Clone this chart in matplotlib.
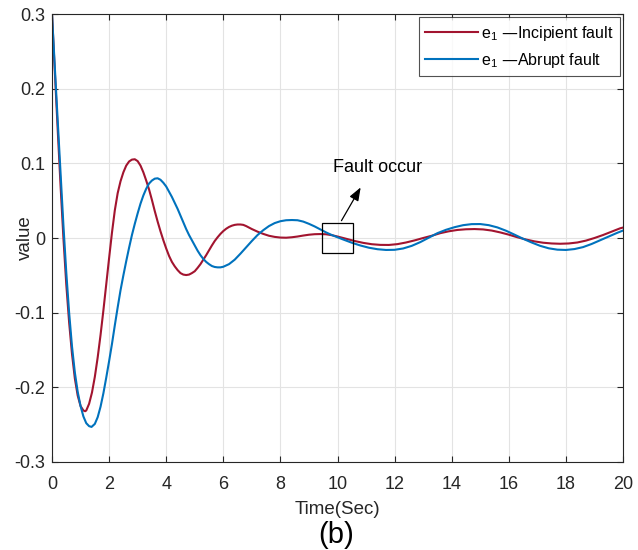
import matplotlib
matplotlib.use("Agg")
import matplotlib.pyplot as plt
from matplotlib.patches import Rectangle
from matplotlib.ticker import FuncFormatter

plt.rcParams['font.family'] = ['Liberation Sans', 'DejaVu Sans']

# --- data ---
t_inc = [0.0, 0.1, 0.2, 0.3, 0.4, 0.5, 0.6, 0.7, 0.8, 0.9, 1.0, 1.1, 1.16, 1.2, 1.3,
         1.4, 1.5, 1.6, 1.7, 1.8, 1.9, 2.0, 2.1, 2.2, 2.3, 2.4, 2.5, 2.6, 2.7, 2.8,
         2.9, 3.0, 3.1, 3.2, 3.3, 3.4, 3.5, 3.6, 3.7, 3.8, 3.9, 4.0, 4.1, 4.2, 4.3,
         4.4, 4.5, 4.6, 4.7, 4.8, 4.9, 5.0, 5.1, 5.2, 5.3, 5.4, 5.5, 5.6, 5.7, 5.8,
         5.9, 6.0, 6.1, 6.2, 6.3, 6.4, 6.5, 6.6, 6.7, 6.8, 6.9, 7.0, 7.2, 7.4, 7.6,
         7.8, 8.0, 8.2, 8.4, 8.6, 8.8, 9.0, 9.2, 9.4, 9.6, 9.8, 10.0, 10.3, 10.6,
         10.9, 11.2, 11.5, 11.8, 12.1, 12.4, 12.7, 13.0, 13.3, 13.6, 13.9, 14.2,
         14.5, 14.8, 15.1, 15.4, 15.7, 16.0, 16.3, 16.6, 16.9, 17.2, 17.5, 17.8,
         18.1, 18.4, 18.7, 19.0, 19.3, 19.6, 19.9, 20.0]
e_inc = [0.300, 0.222, 0.145, 0.070, 0.000, -0.062, -0.113, -0.155, -0.188, -0.211,
         -0.225, -0.231, -0.232, -0.231, -0.222, -0.207, -0.186, -0.160, -0.130,
         -0.097, -0.062, -0.027, 0.007, 0.037, 0.060, 0.076, 0.088, 0.097, 0.1025,
         0.105, 0.1055, 0.103, 0.097, 0.088, 0.077, 0.065, 0.051, 0.036, 0.022,
         0.009, -0.003, -0.014, -0.024, -0.032, -0.038, -0.043, -0.047, -0.049,
         -0.0496, -0.049, -0.047, -0.0445, -0.040, -0.035, -0.029, -0.023, -0.0165,
         -0.010, -0.004, 0.001, 0.0055, 0.0093, 0.0124, 0.0148, 0.0165, 0.0176,
         0.0181, 0.0181, 0.0176, 0.016, 0.014, 0.012, 0.0085, 0.0055, 0.003, 0.0015,
         0.0006, 0.0004, 0.001, 0.002, 0.0033, 0.0044, 0.0051, 0.0053, 0.0050,
         0.0038, 0.002, -0.001, -0.004, -0.0065, -0.0083, -0.0092, -0.0093, -0.0082,
         -0.006, -0.0032, 0.000, 0.003, 0.0065, 0.009, 0.0108, 0.0117, 0.012, 0.0115,
         0.010, 0.0075, 0.0045, 0.001, -0.002, -0.0045, -0.0063, -0.0073, -0.0077,
         -0.0073, -0.006, -0.0035, 0.000, 0.004, 0.0085, 0.013, 0.014]

t_abr = [0.0, 0.1, 0.2, 0.3, 0.4, 0.5, 0.6, 0.7, 0.8, 0.9, 1.0, 1.1, 1.2, 1.3, 1.385,
         1.5, 1.6, 1.7, 1.8, 1.9, 2.0, 2.1, 2.2, 2.3, 2.4, 2.5, 2.6, 2.7, 2.8, 2.9,
         3.0, 3.1, 3.2, 3.3, 3.4, 3.5, 3.6, 3.7, 3.8, 3.9, 4.0, 4.1, 4.2, 4.3, 4.4,
         4.5, 4.6, 4.7, 4.8, 4.9, 5.0, 5.1, 5.2, 5.3, 5.4, 5.5, 5.6, 5.7, 5.8, 5.9,
         6.0, 6.2, 6.4, 6.6, 6.8, 7.0, 7.2, 7.4, 7.6, 7.8, 8.0, 8.2, 8.4, 8.6, 8.8,
         9.0, 9.2, 9.4, 9.6, 9.8, 10.0, 10.2, 10.5, 10.8, 11.1, 11.4, 11.7, 12.0,
         12.3, 12.6, 12.9, 13.2, 13.5, 13.8, 14.1, 14.4, 14.7, 15.0, 15.3, 15.6,
         15.9, 16.2, 16.5, 16.8, 17.1, 17.4, 17.7, 18.0, 18.3, 18.6, 18.9, 19.2,
         19.5, 19.8, 20.0]
e_abr = [0.300, 0.228, 0.157, 0.087, 0.017, -0.046, -0.100, -0.145, -0.180, -0.206,
         -0.225, -0.239, -0.248, -0.252, -0.253, -0.249, -0.240, -0.226, -0.208,
         -0.187, -0.165, -0.142, -0.117, -0.093, -0.070, -0.050, -0.031, -0.013,
         0.004, 0.019, 0.033, 0.046, 0.057, 0.066, 0.073, 0.077, 0.0795, 0.080, 0.078,
         0.074, 0.069, 0.062, 0.055, 0.047, 0.039, 0.030, 0.021, 0.012, 0.004, -0.003,
         -0.010, -0.017, -0.023, -0.028, -0.032, -0.035, -0.0375, -0.0388, -0.0393,
         -0.0393, -0.0385, -0.035, -0.029, -0.021, -0.0125, -0.004, 0.004, 0.0105,
         0.016, 0.020, 0.0225, 0.0238, 0.0241, 0.0238, 0.022, 0.019, 0.0155, 0.0115,
         0.0075, 0.004, 0.001, -0.002, -0.0063, -0.010, -0.013, -0.015, -0.016,
         -0.0158, -0.014, -0.0105, -0.0055, 0.0005, 0.0065, 0.011, 0.0145, 0.0172,
         0.0186, 0.0187, 0.0172, 0.0142, 0.0098, 0.0045, -0.001, -0.006, -0.0105,
         -0.0138, -0.0156, -0.016, -0.0148, -0.0122, -0.008, -0.003, 0.002, 0.007,
         0.010]

x_ticks = list(range(0, 21, 2))
y_ticks = [-0.3, -0.2, -0.1, 0, 0.1, 0.2, 0.3]

# fault marker box (data coords)
box_x, box_y, box_w, box_h = 9.45, -0.02, 1.1, 0.04

red = '#A2142F'
blue = '#0072BD'
axis_col = '#262626'

fig = plt.figure(figsize=(6.38, 5.5), dpi=100)
ax = fig.add_axes([0.0815, 0.16, 0.895, 0.8145])

ax.plot(t_inc, e_inc, color=red, lw=1.5, label=r'$\mathregular{e_1}$ —Incipient fault')
ax.plot(t_abr, e_abr, color=blue, lw=1.5, label=r'$\mathregular{e_1}$ —Abrupt fault')

ax.set_xlim(0, 20)
ax.set_ylim(-0.3, 0.3)
ax.set_xticks(x_ticks)
ax.set_yticks(y_ticks)
ax.yaxis.set_major_formatter(FuncFormatter(lambda v, p: '%g' % round(v, 2)))
ax.grid(True, color='#e3e3e3', lw=0.8)
ax.set_axisbelow(True)
ax.tick_params(direction='in', top=True, right=True, length=4, width=0.8,
               colors=axis_col, labelsize=13, labelcolor='#262626')
ax.tick_params(axis='x', pad=10)
ax.tick_params(axis='y', pad=5)
for s in ax.spines.values():
    s.set_color(axis_col)
    s.set_linewidth(0.8)

ax.set_xlabel('Time(Sec)', fontsize=13.5, color='#262626')
ax.xaxis.set_label_coords(0.5, -0.088)
ax.set_ylabel('value', fontsize=13.5, color='#262626')
ax.yaxis.set_label_coords(-0.031, 0.5)

ax.add_patch(Rectangle((box_x, box_y), box_w, box_h, fill=False, ec='black', lw=0.9, zorder=5))
ax.annotate('', xy=(10.86, 0.071), xytext=(10.09, 0.02),
            arrowprops=dict(arrowstyle='-|>,head_length=0.8,head_width=0.3', color='black', lw=0.9))
ax.text(9.84, 0.095, 'Fault occur', fontsize=13, ha='left', va='center')

leg = ax.legend(loc='upper right', fontsize=11.5, frameon=True, fancybox=False,
                handlelength=3.3, borderaxespad=0.2, labelspacing=0.5,
                handletextpad=0.2, borderpad=0.4)
leg.get_frame().set_edgecolor(axis_col)
leg.get_frame().set_linewidth(0.8)

fig.text(0.527, 0.028, '(b)', fontsize=21, ha='center', va='center')

fig.savefig('out.png', dpi=100)
